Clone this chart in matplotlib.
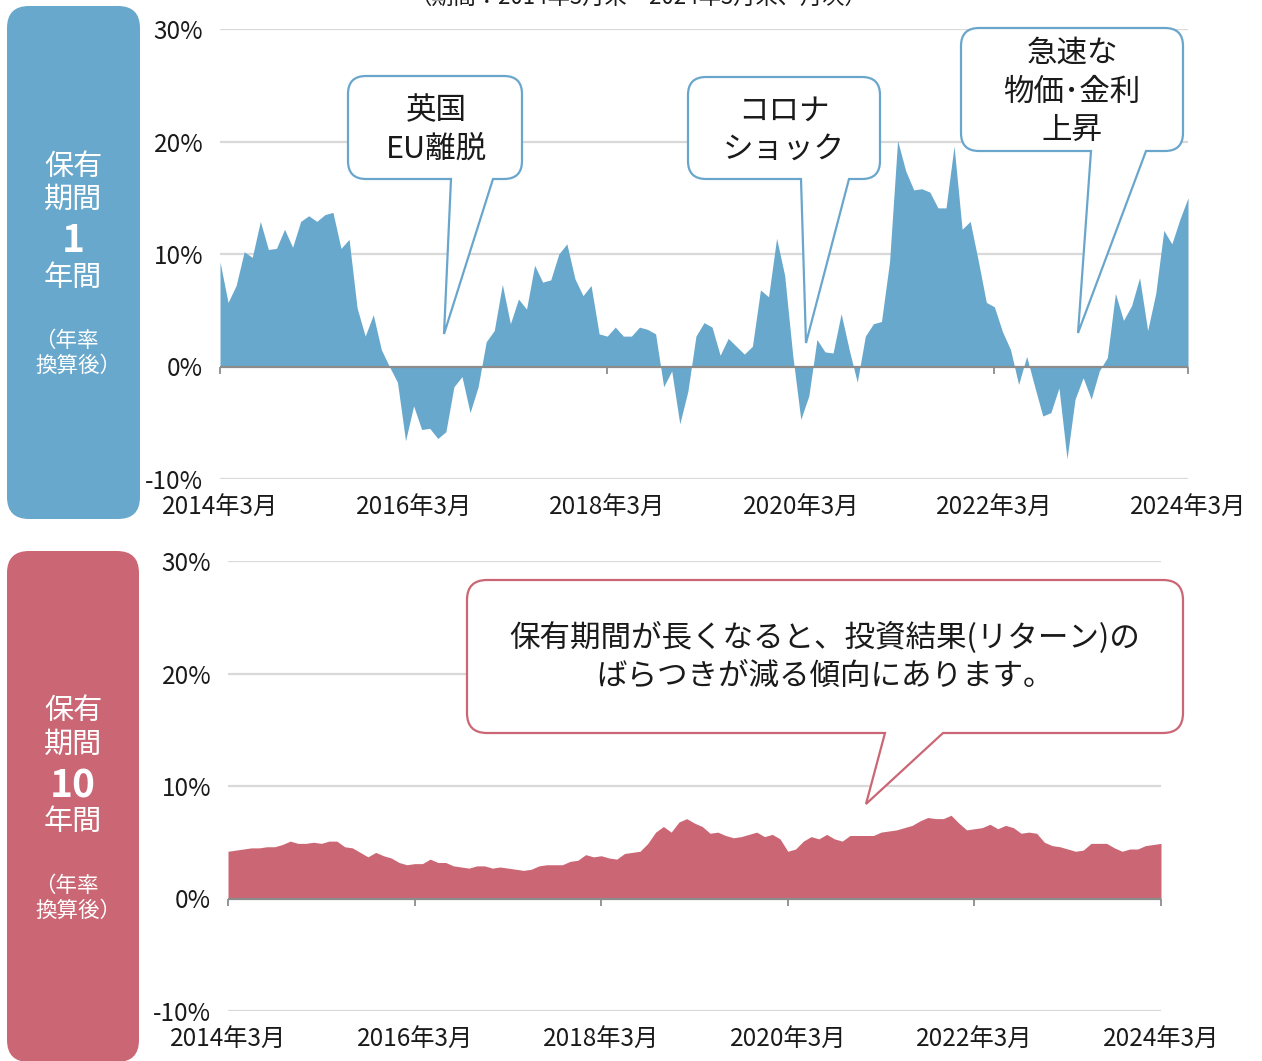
import matplotlib
matplotlib.use("Agg")
import matplotlib.pyplot as plt
from matplotlib.path import Path
from matplotlib.patches import PathPatch
import numpy as np

plt.rcParams['font.family'] = ['Noto Sans CJK JP', 'DejaVu Sans']

# ---------------- data ----------------
tick_labels = ["2014年3月", "2016年3月", "2018年3月", "2020年3月", "2022年3月", "2024年3月"]
tick_months = [0, 24, 48, 72, 96, 120]
y_ticks = [-10, 0, 10, 20, 30]
y_tick_labels = ["-10%", "0%", "10%", "20%", "30%"]

# 1-year holding period returns (annualized, %), monthly 2014/3 - 2024/3
ret_1y = [
    9.3, 5.7, 7.2, 10.2, 9.7, 12.9, 10.4, 10.5, 12.2, 10.6,
    12.9, 13.4, 12.9, 13.5, 13.7, 10.5, 11.3, 5.2, 2.7, 4.6,
    1.5, 0.0, -1.4, -6.6, -3.5, -5.6, -5.5, -6.4, -5.8, -1.8,
    -0.9, -4.1, -1.8, 2.2, 3.2, 7.3, 3.8, 6.0, 5.1, 9.0,
    7.5, 7.7, 10.0, 10.9, 7.8, 6.3, 7.2, 2.9, 2.7, 3.5,
    2.7, 2.7, 3.5, 3.3, 2.9, -1.8, -0.4, -5.1, -2.2, 2.7,
    3.9, 3.5, 1.0, 2.5, 1.8, 1.1, 1.8, 6.8, 6.2, 11.4,
    8.1, 1.0, -4.7, -2.6, 2.4, 1.3, 1.2, 4.7, 1.5, -1.4,
    2.7, 3.8, 4.0, 9.3, 20.1, 17.4, 15.7, 15.8, 15.5, 14.1,
    14.1, 19.6, 12.2, 12.9, 9.4, 5.7, 5.3, 3.1, 1.5, -1.6,
    0.9, -1.8, -4.4, -4.1, -1.9, -8.2, -2.9, -1.0, -2.9, -0.4,
    0.8, 6.5, 4.1, 5.4, 7.9, 3.2, 6.5, 12.1, 10.9, 13.1,
    15.0,
]

# 10-year holding period returns (annualized, %), monthly 2014/3 - 2024/3
ret_10y = [
    4.2, 4.3, 4.4, 4.5, 4.5, 4.6, 4.6, 4.8, 5.1, 4.9,
    4.9, 5.0, 4.9, 5.1, 5.1, 4.6, 4.5, 4.1, 3.7, 4.1,
    3.8, 3.6, 3.2, 3.0, 3.1, 3.1, 3.5, 3.2, 3.2, 2.9,
    2.8, 2.7, 2.9, 2.9, 2.7, 2.8, 2.7, 2.6, 2.5, 2.6,
    2.9, 3.0, 3.0, 3.0, 3.3, 3.4, 3.9, 3.7, 3.8, 3.6,
    3.5, 4.0, 4.1, 4.2, 4.9, 5.9, 6.4, 5.9, 6.8, 7.1,
    6.7, 6.4, 5.8, 5.9, 5.6, 5.4, 5.5, 5.7, 5.9, 5.5,
    5.7, 5.3, 4.2, 4.4, 5.1, 5.5, 5.3, 5.7, 5.3, 5.1,
    5.6, 5.6, 5.6, 5.6, 5.9, 6.0, 6.1, 6.3, 6.5, 6.9,
    7.2, 7.1, 7.1, 7.4, 6.7, 6.1, 6.2, 6.3, 6.6, 6.2,
    6.5, 6.3, 5.8, 5.9, 5.8, 5.0, 4.7, 4.6, 4.4, 4.2,
    4.3, 4.9, 4.9, 4.9, 4.5, 4.2, 4.4, 4.4, 4.7, 4.8,
    4.9,
]

# ---------------- style ----------------
W, H = 1262, 1061
BLUE = "#68a8cc"
RED = "#cb6774"
GRID = "#d9d9d9"
ZERO = "#8c8c8c"
TXT = "#1a1a1a"

fig = plt.figure(figsize=(W / 100, H / 100), dpi=100)
fig.patch.set_facecolor("white")


def px(x, y):
    return (x / W, 1 - y / H)


def rounded_path(x0, y0, x1, y1, r, pointer=None):
    pts = []
    codes = []

    def mv(x, y):
        pts.append(px(x, y)); codes.append(Path.MOVETO)

    def ln(x, y):
        pts.append(px(x, y)); codes.append(Path.LINETO)

    def cv(cx, cy, x, y):
        pts.append(px(cx, cy)); codes.append(Path.CURVE3)
        pts.append(px(x, y)); codes.append(Path.CURVE3)

    mv(x0 + r, y0)
    ln(x1 - r, y0)
    cv(x1, y0, x1, y0 + r)
    ln(x1, y1 - r)
    cv(x1, y1, x1 - r, y1)
    if pointer is not None:
        xl, xr, tx, ty = pointer
        ln(xr, y1)
        ln(tx, ty)
        ln(xl, y1)
    ln(x0 + r, y1)
    cv(x0, y1, x0, y1 - r)
    ln(x0, y0 + r)
    cv(x0, y0, x0 + r, y0)
    pts.append(px(x0 + r, y0)); codes.append(Path.CLOSEPOLY)
    return Path(pts, codes)


def make_axes(left, right, top, bottom, values, color):
    ax = fig.add_axes([left / W, 1 - bottom / H, (right - left) / W, (bottom - top) / H])
    ax.patch.set_alpha(0)
    x = np.arange(len(values))
    ax.fill_between(x, 0, values, color=color, lw=0, zorder=2)
    ax.set_xlim(0, len(values) - 1)
    ax.set_ylim(-10, 30)
    for v in y_ticks:
        if v != 0:
            ax.axhline(v, color=GRID, lw=1.6, zorder=1)
    ax.axhline(0, color=ZERO, lw=1.6, zorder=3)
    for s in ["top", "right", "left"]:
        ax.spines[s].set_visible(False)
    ax.spines["bottom"].set_position(("data", 0))
    ax.spines["bottom"].set_visible(False)
    ax.set_xticks(tick_months)
    ax.set_xticklabels([])
    ax.tick_params(axis="x", direction="out", length=5, width=1.3, color=ZERO)
    ax.set_yticks(y_ticks)
    ax.set_yticklabels(y_tick_labels, fontsize=17.5, color=TXT)
    ax.tick_params(axis="y", length=0, pad=12)
    trans = matplotlib.transforms.blended_transform_factory(ax.transData, ax.transAxes)
    for m, lab in zip(tick_months, tick_labels):
        ax.text(m, -29 / (bottom - top), lab, transform=trans, ha="center", va="center",
                fontsize=17.5, color=TXT)
    return ax


ax1 = make_axes(220, 1188, 29, 479, ret_1y, BLUE)
ax2 = make_axes(228, 1161, 561, 1011, ret_10y, RED)

# title (clipped at the top edge, as in the reference)
fig.text(638 / W, 1 + 3 / H, "（期間：2014年3月末～2024年3月末、月次）", ha="center", va="center",
         fontsize=16, color=TXT)

# left labels
fig.add_artist(PathPatch(rounded_path(7, 6, 140, 519, 22), transform=fig.transFigure,
                         facecolor=BLUE, edgecolor="none"))
fig.add_artist(PathPatch(rounded_path(7, 551, 139, 1062, 22), transform=fig.transFigure,
                         facecolor=RED, edgecolor="none"))


def side_label(yc, num, cx=73):
    items = [("保有", yc[0], 21, "normal", cx), ("期間", yc[1], 21, "normal", cx),
             (num, yc[2], 28, "bold", cx), ("年間", yc[3], 21, "normal", cx),
             ("（年率", yc[4], 15.5, "normal", cx - 7), ("換算後）", yc[5], 15.5, "normal", cx + 5)]
    for t, y, fs, fw, x in items:
        fig.text(x / W, 1 - y / H, t, ha="center", va="center", fontsize=fs,
                 fontweight=fw, color="white")


side_label([167, 200, 240, 278, 341, 366], "1")
side_label([711, 745, 786, 822, 886, 911], "10")

# callouts
CB = "#6aa6cc"


def callout(box, r, pointer, lines, ys, fs, ec, cx=None):
    x0, y0, x1, y1 = box
    fig.add_artist(PathPatch(rounded_path(x0, y0, x1, y1, r, pointer), transform=fig.transFigure,
                             facecolor="white", edgecolor=ec, lw=1.6, zorder=5))
    if cx is None:
        cx = (x0 + x1) / 2
    for t, y in zip(lines, ys):
        fig.text(cx / W, 1 - y / H, t, ha="center", va="center", fontsize=fs, color=TXT, zorder=6)


callout((348, 76, 522, 179), 18, (451, 493, 444, 334), ["英国", "EU離脱"], [111, 149], 22, CB, cx=436)
callout((688, 77, 880, 179), 18, (801, 849, 806, 343), ["コロナ", "ショック"], [111, 149], 22, CB, cx=784)
callout((961, 28, 1183, 151), 18, (1091, 1146, 1078, 333), ["急速な", "物価･金利", "上昇"],
        [53, 92, 130], 22, CB, cx=1072)
callout((467, 580, 1183, 733), 20, (885, 943, 866, 804),
        ["保有期間が長くなると、投資結果(リターン)の", "ばらつきが減る傾向にあります。"],
        [638, 676], 22, RED, cx=825)

fig.savefig("out.png", dpi=100)
